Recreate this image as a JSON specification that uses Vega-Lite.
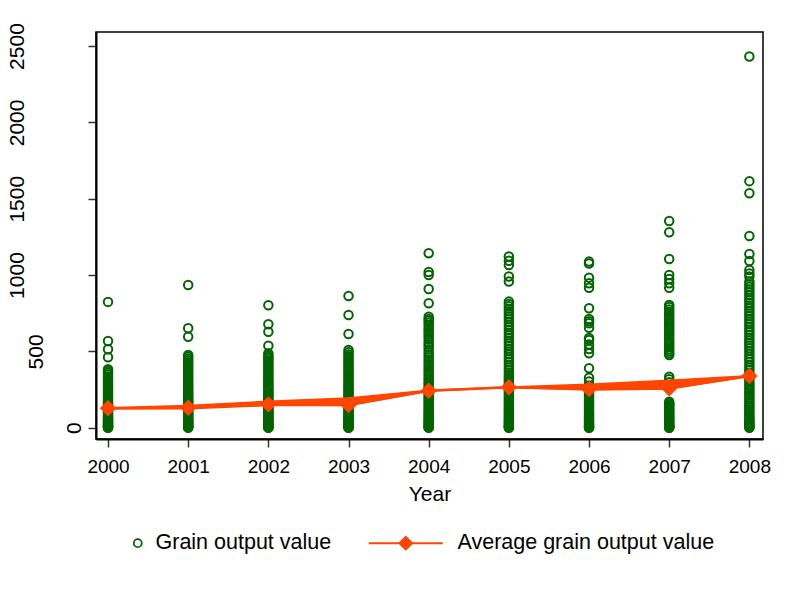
{
"$schema": "https://vega.github.io/schema/vega-lite/v6.json",
"width": 667, "height": 407,
"autosize": {"type": "none"},
"padding": {"left": 96, "top": 32, "right": 31, "bottom": 164},
"background": "white",
"config": {"view": {"stroke": "#000", "strokeWidth": 1.5}, "font": "Liberation Sans", "axis": {"labelFont": "Liberation Sans", "titleFont": "Liberation Sans"}, "legend": {"labelFont": "Liberation Sans"}},
"datasets": {
"pts": [
{"year":2000,"v":824},{"year":2000,"v":568},{"year":2000,"v":514},{"year":2000,"v":461},{"year":2000,"v":383},{"year":2000,"v":372},{"year":2000,"v":360},{"year":2000,"v":348},{"year":2000,"v":336},{"year":2000,"v":325},{"year":2000,"v":313},{"year":2000,"v":301},{"year":2000,"v":290},{"year":2000,"v":279},{"year":2000,"v":268},{"year":2000,"v":257},{"year":2000,"v":246},{"year":2000,"v":236},{"year":2000,"v":226},{"year":2000,"v":216},{"year":2000,"v":207},{"year":2000,"v":198},{"year":2000,"v":189},{"year":2000,"v":180},{"year":2000,"v":172},{"year":2000,"v":164},{"year":2000,"v":156},{"year":2000,"v":148},{"year":2000,"v":141},{"year":2000,"v":134},{"year":2000,"v":127},{"year":2000,"v":120},{"year":2000,"v":113},{"year":2000,"v":106},{"year":2000,"v":100},{"year":2000,"v":94},{"year":2000,"v":88},{"year":2000,"v":82},{"year":2000,"v":76},{"year":2000,"v":71},{"year":2000,"v":66},{"year":2000,"v":61},{"year":2000,"v":56},{"year":2000,"v":51},{"year":2000,"v":46},{"year":2000,"v":41},{"year":2000,"v":37},{"year":2000,"v":33},{"year":2000,"v":29},{"year":2000,"v":25},{"year":2000,"v":21},{"year":2000,"v":17},{"year":2000,"v":14},{"year":2000,"v":11},{"year":2000,"v":8},{"year":2000,"v":5},{"year":2000,"v":3},{"year":2000,"v":1},{"year":2000,"v":0},
{"year":2001,"v":935},{"year":2001,"v":651},{"year":2001,"v":596},{"year":2001,"v":476},{"year":2001,"v":464},{"year":2001,"v":452},{"year":2001,"v":440},{"year":2001,"v":428},{"year":2001,"v":416},{"year":2001,"v":404},{"year":2001,"v":392},{"year":2001,"v":380},{"year":2001,"v":368},{"year":2001,"v":356},{"year":2001,"v":344},{"year":2001,"v":332},{"year":2001,"v":320},{"year":2001,"v":308},{"year":2001,"v":297},{"year":2001,"v":286},{"year":2001,"v":275},{"year":2001,"v":264},{"year":2001,"v":253},{"year":2001,"v":243},{"year":2001,"v":233},{"year":2001,"v":223},{"year":2001,"v":213},{"year":2001,"v":204},{"year":2001,"v":195},{"year":2001,"v":186},{"year":2001,"v":177},{"year":2001,"v":168},{"year":2001,"v":160},{"year":2001,"v":152},{"year":2001,"v":144},{"year":2001,"v":136},{"year":2001,"v":128},{"year":2001,"v":120},{"year":2001,"v":113},{"year":2001,"v":106},{"year":2001,"v":99},{"year":2001,"v":92},{"year":2001,"v":85},{"year":2001,"v":78},{"year":2001,"v":72},{"year":2001,"v":66},{"year":2001,"v":60},{"year":2001,"v":54},{"year":2001,"v":48},{"year":2001,"v":42},{"year":2001,"v":37},{"year":2001,"v":32},{"year":2001,"v":27},{"year":2001,"v":22},{"year":2001,"v":18},{"year":2001,"v":14},{"year":2001,"v":10},{"year":2001,"v":7},{"year":2001,"v":4},{"year":2001,"v":2},{"year":2001,"v":0},
{"year":2002,"v":802},{"year":2002,"v":678},{"year":2002,"v":629},{"year":2002,"v":537},{"year":2002,"v":487},{"year":2002,"v":475},{"year":2002,"v":463},{"year":2002,"v":451},{"year":2002,"v":440},{"year":2002,"v":428},{"year":2002,"v":416},{"year":2002,"v":404},{"year":2002,"v":392},{"year":2002,"v":380},{"year":2002,"v":368},{"year":2002,"v":356},{"year":2002,"v":344},{"year":2002,"v":332},{"year":2002,"v":320},{"year":2002,"v":309},{"year":2002,"v":298},{"year":2002,"v":287},{"year":2002,"v":276},{"year":2002,"v":265},{"year":2002,"v":254},{"year":2002,"v":244},{"year":2002,"v":234},{"year":2002,"v":224},{"year":2002,"v":214},{"year":2002,"v":204},{"year":2002,"v":195},{"year":2002,"v":186},{"year":2002,"v":177},{"year":2002,"v":168},{"year":2002,"v":159},{"year":2002,"v":150},{"year":2002,"v":142},{"year":2002,"v":134},{"year":2002,"v":126},{"year":2002,"v":118},{"year":2002,"v":110},{"year":2002,"v":102},{"year":2002,"v":95},{"year":2002,"v":88},{"year":2002,"v":81},{"year":2002,"v":74},{"year":2002,"v":67},{"year":2002,"v":60},{"year":2002,"v":54},{"year":2002,"v":48},{"year":2002,"v":42},{"year":2002,"v":36},{"year":2002,"v":30},{"year":2002,"v":25},{"year":2002,"v":20},{"year":2002,"v":15},{"year":2002,"v":11},{"year":2002,"v":7},{"year":2002,"v":4},{"year":2002,"v":1},{"year":2002,"v":0},
{"year":2003,"v":863},{"year":2003,"v":738},{"year":2003,"v":614},{"year":2003,"v":509},{"year":2003,"v":495},{"year":2003,"v":480},{"year":2003,"v":468},{"year":2003,"v":455},{"year":2003,"v":442},{"year":2003,"v":430},{"year":2003,"v":418},{"year":2003,"v":405},{"year":2003,"v":392},{"year":2003,"v":380},{"year":2003,"v":368},{"year":2003,"v":356},{"year":2003,"v":344},{"year":2003,"v":332},{"year":2003,"v":320},{"year":2003,"v":308},{"year":2003,"v":296},{"year":2003,"v":285},{"year":2003,"v":274},{"year":2003,"v":263},{"year":2003,"v":252},{"year":2003,"v":242},{"year":2003,"v":232},{"year":2003,"v":222},{"year":2003,"v":212},{"year":2003,"v":202},{"year":2003,"v":192},{"year":2003,"v":182},{"year":2003,"v":173},{"year":2003,"v":164},{"year":2003,"v":155},{"year":2003,"v":146},{"year":2003,"v":137},{"year":2003,"v":128},{"year":2003,"v":120},{"year":2003,"v":112},{"year":2003,"v":104},{"year":2003,"v":96},{"year":2003,"v":88},{"year":2003,"v":81},{"year":2003,"v":74},{"year":2003,"v":67},{"year":2003,"v":60},{"year":2003,"v":53},{"year":2003,"v":47},{"year":2003,"v":41},{"year":2003,"v":35},{"year":2003,"v":29},{"year":2003,"v":24},{"year":2003,"v":19},{"year":2003,"v":14},{"year":2003,"v":10},{"year":2003,"v":6},{"year":2003,"v":3},{"year":2003,"v":1},{"year":2003,"v":0},
{"year":2004,"v":1143},{"year":2004,"v":1020},{"year":2004,"v":1000},{"year":2004,"v":909},{"year":2004,"v":815},{"year":2004,"v":727},{"year":2004,"v":712},{"year":2004,"v":700},{"year":2004,"v":688},{"year":2004,"v":672},{"year":2004,"v":655},{"year":2004,"v":640},{"year":2004,"v":625},{"year":2004,"v":610},{"year":2004,"v":595},{"year":2004,"v":578},{"year":2004,"v":560},{"year":2004,"v":545},{"year":2004,"v":530},{"year":2004,"v":512},{"year":2004,"v":495},{"year":2004,"v":478},{"year":2004,"v":462},{"year":2004,"v":445},{"year":2004,"v":430},{"year":2004,"v":415},{"year":2004,"v":400},{"year":2004,"v":385},{"year":2004,"v":370},{"year":2004,"v":355},{"year":2004,"v":340},{"year":2004,"v":325},{"year":2004,"v":312},{"year":2004,"v":300},{"year":2004,"v":288},{"year":2004,"v":276},{"year":2004,"v":264},{"year":2004,"v":252},{"year":2004,"v":240},{"year":2004,"v":228},{"year":2004,"v":216},{"year":2004,"v":205},{"year":2004,"v":194},{"year":2004,"v":183},{"year":2004,"v":172},{"year":2004,"v":161},{"year":2004,"v":150},{"year":2004,"v":140},{"year":2004,"v":130},{"year":2004,"v":120},{"year":2004,"v":110},{"year":2004,"v":100},{"year":2004,"v":90},{"year":2004,"v":81},{"year":2004,"v":72},{"year":2004,"v":63},{"year":2004,"v":54},{"year":2004,"v":46},{"year":2004,"v":38},{"year":2004,"v":30},{"year":2004,"v":23},{"year":2004,"v":16},{"year":2004,"v":10},{"year":2004,"v":5},{"year":2004,"v":2},{"year":2004,"v":0},
{"year":2005,"v":1121},{"year":2005,"v":1094},{"year":2005,"v":1066},{"year":2005,"v":990},{"year":2005,"v":957},{"year":2005,"v":826},{"year":2005,"v":810},{"year":2005,"v":795},{"year":2005,"v":780},{"year":2005,"v":762},{"year":2005,"v":745},{"year":2005,"v":728},{"year":2005,"v":710},{"year":2005,"v":692},{"year":2005,"v":675},{"year":2005,"v":658},{"year":2005,"v":640},{"year":2005,"v":622},{"year":2005,"v":605},{"year":2005,"v":588},{"year":2005,"v":570},{"year":2005,"v":552},{"year":2005,"v":535},{"year":2005,"v":518},{"year":2005,"v":500},{"year":2005,"v":482},{"year":2005,"v":465},{"year":2005,"v":448},{"year":2005,"v":430},{"year":2005,"v":412},{"year":2005,"v":395},{"year":2005,"v":378},{"year":2005,"v":362},{"year":2005,"v":346},{"year":2005,"v":332},{"year":2005,"v":318},{"year":2005,"v":305},{"year":2005,"v":292},{"year":2005,"v":280},{"year":2005,"v":268},{"year":2005,"v":256},{"year":2005,"v":244},{"year":2005,"v":232},{"year":2005,"v":220},{"year":2005,"v":208},{"year":2005,"v":196},{"year":2005,"v":184},{"year":2005,"v":172},{"year":2005,"v":160},{"year":2005,"v":148},{"year":2005,"v":137},{"year":2005,"v":126},{"year":2005,"v":115},{"year":2005,"v":104},{"year":2005,"v":94},{"year":2005,"v":84},{"year":2005,"v":74},{"year":2005,"v":64},{"year":2005,"v":55},{"year":2005,"v":46},{"year":2005,"v":38},{"year":2005,"v":30},{"year":2005,"v":22},{"year":2005,"v":15},{"year":2005,"v":9},{"year":2005,"v":4},{"year":2005,"v":1},{"year":2005,"v":0},
{"year":2006,"v":1088},{"year":2006,"v":1075},{"year":2006,"v":983},{"year":2006,"v":946},{"year":2006,"v":917},{"year":2006,"v":782},{"year":2006,"v":712},{"year":2006,"v":698},{"year":2006,"v":684},{"year":2006,"v":655},{"year":2006,"v":588},{"year":2006,"v":575},{"year":2006,"v":545},{"year":2006,"v":516},{"year":2006,"v":488},{"year":2006,"v":389},{"year":2006,"v":328},{"year":2006,"v":302},{"year":2006,"v":275},{"year":2006,"v":262},{"year":2006,"v":250},{"year":2006,"v":238},{"year":2006,"v":226},{"year":2006,"v":215},{"year":2006,"v":204},{"year":2006,"v":193},{"year":2006,"v":182},{"year":2006,"v":171},{"year":2006,"v":160},{"year":2006,"v":150},{"year":2006,"v":140},{"year":2006,"v":130},{"year":2006,"v":120},{"year":2006,"v":110},{"year":2006,"v":100},{"year":2006,"v":91},{"year":2006,"v":82},{"year":2006,"v":73},{"year":2006,"v":64},{"year":2006,"v":56},{"year":2006,"v":48},{"year":2006,"v":40},{"year":2006,"v":33},{"year":2006,"v":26},{"year":2006,"v":19},{"year":2006,"v":13},{"year":2006,"v":8},{"year":2006,"v":4},{"year":2006,"v":1},{"year":2006,"v":0},
{"year":2007,"v":1354},{"year":2007,"v":1280},{"year":2007,"v":1105},{"year":2007,"v":1000},{"year":2007,"v":974},{"year":2007,"v":946},{"year":2007,"v":917},{"year":2007,"v":804},{"year":2007,"v":790},{"year":2007,"v":775},{"year":2007,"v":760},{"year":2007,"v":745},{"year":2007,"v":730},{"year":2007,"v":716},{"year":2007,"v":700},{"year":2007,"v":686},{"year":2007,"v":672},{"year":2007,"v":658},{"year":2007,"v":643},{"year":2007,"v":628},{"year":2007,"v":614},{"year":2007,"v":600},{"year":2007,"v":585},{"year":2007,"v":570},{"year":2007,"v":556},{"year":2007,"v":542},{"year":2007,"v":528},{"year":2007,"v":514},{"year":2007,"v":500},{"year":2007,"v":488},{"year":2007,"v":476},{"year":2007,"v":334},{"year":2007,"v":318},{"year":2007,"v":298},{"year":2007,"v":170},{"year":2007,"v":162},{"year":2007,"v":154},{"year":2007,"v":146},{"year":2007,"v":138},{"year":2007,"v":130},{"year":2007,"v":122},{"year":2007,"v":114},{"year":2007,"v":106},{"year":2007,"v":98},{"year":2007,"v":90},{"year":2007,"v":82},{"year":2007,"v":74},{"year":2007,"v":67},{"year":2007,"v":60},{"year":2007,"v":53},{"year":2007,"v":46},{"year":2007,"v":39},{"year":2007,"v":32},{"year":2007,"v":26},{"year":2007,"v":20},{"year":2007,"v":15},{"year":2007,"v":10},{"year":2007,"v":6},{"year":2007,"v":3},{"year":2007,"v":1},{"year":2007,"v":0},
{"year":2008,"v":2431},{"year":2008,"v":1615},{"year":2008,"v":1536},{"year":2008,"v":1256},{"year":2008,"v":1138},{"year":2008,"v":1092},{"year":2008,"v":1033},{"year":2008,"v":1010},{"year":2008,"v":990},{"year":2008,"v":957},{"year":2008,"v":940},{"year":2008,"v":924},{"year":2008,"v":905},{"year":2008,"v":888},{"year":2008,"v":870},{"year":2008,"v":852},{"year":2008,"v":835},{"year":2008,"v":818},{"year":2008,"v":800},{"year":2008,"v":782},{"year":2008,"v":765},{"year":2008,"v":748},{"year":2008,"v":730},{"year":2008,"v":712},{"year":2008,"v":695},{"year":2008,"v":678},{"year":2008,"v":660},{"year":2008,"v":642},{"year":2008,"v":625},{"year":2008,"v":608},{"year":2008,"v":590},{"year":2008,"v":572},{"year":2008,"v":555},{"year":2008,"v":538},{"year":2008,"v":520},{"year":2008,"v":502},{"year":2008,"v":485},{"year":2008,"v":465},{"year":2008,"v":448},{"year":2008,"v":430},{"year":2008,"v":412},{"year":2008,"v":395},{"year":2008,"v":378},{"year":2008,"v":360},{"year":2008,"v":345},{"year":2008,"v":330},{"year":2008,"v":315},{"year":2008,"v":300},{"year":2008,"v":285},{"year":2008,"v":270},{"year":2008,"v":256},{"year":2008,"v":242},{"year":2008,"v":228},{"year":2008,"v":214},{"year":2008,"v":200},{"year":2008,"v":186},{"year":2008,"v":172},{"year":2008,"v":158},{"year":2008,"v":145},{"year":2008,"v":132},{"year":2008,"v":119},{"year":2008,"v":106},{"year":2008,"v":94},{"year":2008,"v":82},{"year":2008,"v":70},{"year":2008,"v":59},{"year":2008,"v":48},{"year":2008,"v":38},{"year":2008,"v":29},{"year":2008,"v":21},{"year":2008,"v":14},{"year":2008,"v":8},{"year":2008,"v":3},{"year":2008,"v":0}
],
"avg": [
{"year":2000,"mean":127,"lo":120,"hi":135},
{"year":2001,"mean":131,"lo":120,"hi":150},
{"year":2002,"mean":153,"lo":140,"hi":178},
{"year":2003,"mean":149,"lo":140,"hi":200},
{"year":2004,"mean":242,"lo":236,"hi":250},
{"year":2005,"mean":265,"lo":258,"hi":272},
{"year":2006,"mean":254,"lo":242,"hi":290},
{"year":2007,"mean":258,"lo":248,"hi":315},
{"year":2008,"mean":339,"lo":332,"hi":346}
]
},
"layer": [
{"data": {"name": "pts"},
 "mark": {"type": "point", "shape": "circle", "filled": false, "size": 72, "strokeWidth": 2, "opacity": 1},
 "encoding": {
  "x": {"field": "year", "type": "quantitative", "title": "Year",
        "scale": {"domain": [1999.85, 2008.17], "nice": false, "zero": false},
        "axis": {"values": [2000,2001,2002,2003,2004,2005,2006,2007,2008], "format": "d", "grid": false, "labelFlush": false, "labelOverlap": false,
                 "labelFontSize": 19, "labelColor": "#000", "labelPadding": 10, "tickSize": 8, "tickColor": "#333", "tickWidth": 1.5,
                 "domainColor": "#000", "domainWidth": 2, "titleFontSize": 21, "titleFontWeight": "normal", "titleColor": "#000", "titlePadding": 7}},
  "y": {"field": "v", "type": "quantitative", "title": null,
        "scale": {"domain": [-74, 2592], "nice": false, "zero": false},
        "axis": {"values": [0,500,1000,1500,2000,2500], "format": "d", "grid": false, "labelFlush": false, "labelOverlap": false,
                 "labelAngle": -90, "labelAlign": "center", "labelBaseline": "middle",
                 "labelPadding": {"condition": [{"test": "datum.value == 0", "value": 14}, {"test": "datum.value == 500", "value": 51.5}], "value": 70.3},
                 "labelFontSize": 21, "labelColor": "#000", "tickSize": 8, "tickColor": "#333", "tickWidth": 1.5,
                 "domainColor": "#000", "domainWidth": 2}},
  "color": {"datum": "Grain output value", "type": "nominal",
            "scale": {"domain": ["Grain output value", "Average grain output value"], "range": ["#006400", "#FF4500"]},
            "legend": {"orient": "none", "legendX": 31, "legendY": 500, "direction": "horizontal", "title": null,
                       "labelFontSize": 21.5, "labelColor": "#000", "labelLimit": 500, "symbolSize": 64, "symbolStrokeWidth": 1.8,
                       "labelOffset": 7, "columnPadding": 32, "padding": 0,
                       "encode": {"symbols": {"update": {
                          "shape": {"signal": "datum.value === 'Average grain output value' ? 'M-10.14,0L0.43,0M-5.76,0L-4.86,-0.9L-3.96,0L-4.86,0.9Z' : 'circle'"},
                          "size": {"signal": "datum.value === 'Average grain output value' ? 196 : 64"},
                          "fill": {"signal": "datum.value === 'Average grain output value' ? '#FF4500' : 'transparent'"},
                          "stroke": {"signal": "datum.value === 'Average grain output value' ? '#FF4500' : '#006400'"},
                          "strokeWidth": {"signal": "datum.value === 'Average grain output value' ? 2 : 1.8"},
                          "opacity": {"value": 1}
                       }}}}}
 }},
{"data": {"name": "avg"},
 "mark": {"type": "area", "color": "#FF4500", "opacity": 1},
 "encoding": {
  "x": {"field": "year", "type": "quantitative", "title": "Year"},
  "y": {"field": "lo", "type": "quantitative", "title": null},
  "y2": {"field": "hi"}
 }},
{"data": {"name": "avg"},
 "mark": {"type": "line", "strokeWidth": 2.5},
 "encoding": {
  "x": {"field": "year", "type": "quantitative", "title": "Year"},
  "y": {"field": "mean", "type": "quantitative", "title": null},
  "color": {"datum": "Average grain output value", "type": "nominal",
            "legend": {"orient": "none", "legendX": 31, "legendY": 500, "direction": "horizontal", "title": null,
                       "labelFontSize": 21.5, "labelColor": "#000", "labelLimit": 500, "symbolSize": 64, "symbolStrokeWidth": 1.8,
                       "labelOffset": 7, "columnPadding": 32, "padding": 0,
                       "encode": {"symbols": {"update": {
                          "shape": {"signal": "datum.value === 'Average grain output value' ? 'M-10.14,0L0.43,0M-5.76,0L-4.86,-0.9L-3.96,0L-4.86,0.9Z' : 'circle'"},
                          "size": {"signal": "datum.value === 'Average grain output value' ? 196 : 64"},
                          "fill": {"signal": "datum.value === 'Average grain output value' ? '#FF4500' : 'transparent'"},
                          "stroke": {"signal": "datum.value === 'Average grain output value' ? '#FF4500' : '#006400'"},
                          "strokeWidth": {"signal": "datum.value === 'Average grain output value' ? 2 : 1.8"},
                          "opacity": {"value": 1}
                       }}}}}
 }},
{"data": {"name": "avg"},
 "mark": {"type": "point", "shape": "diamond", "filled": true, "size": 270, "color": "#FF4500", "opacity": 1},
 "encoding": {
  "x": {"field": "year", "type": "quantitative", "title": "Year"},
  "y": {"field": "mean", "type": "quantitative", "title": null}
 }}
]
}
